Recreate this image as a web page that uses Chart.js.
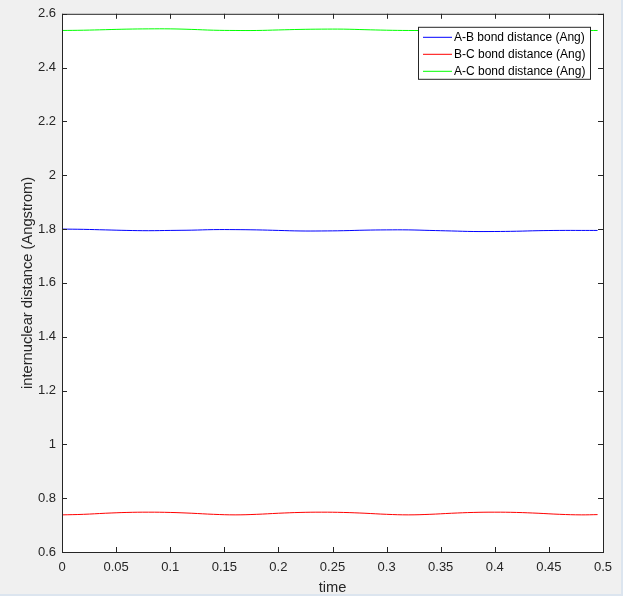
<!DOCTYPE html>
<html>
<head>
<meta charset="utf-8">
<script src="https://cdn.jsdelivr.net/npm/chart.js@4.4.0/dist/chart.umd.min.js"></script>
<style>
  html, body { margin: 0; padding: 0; background: #dce5ef; }
  #wrap { width: 621px; height: 594px; background: #f0f0f0; position: relative; }
</style>
</head>
<body>
<div id="wrap"><canvas id="chart"></canvas></div>
<script>
const FONT = '"Liberation Sans", Arial, Helvetica, sans-serif'
const INK = '#262626'

// sample times (x) and the three bond distances
const times = [0, 0.02, 0.04, 0.06, 0.08, 0.10, 0.12, 0.14, 0.16, 0.18, 0.20, 0.22, 0.24,
  0.26, 0.28, 0.30, 0.32, 0.34, 0.36, 0.38, 0.40, 0.42, 0.44, 0.46, 0.48, 0.495]

const abDistance = [1.800, 1.799, 1.797, 1.795, 1.794, 1.795, 1.796, 1.798, 1.798, 1.797, 1.795, 1.793, 1.793,
  1.794, 1.796, 1.797, 1.797, 1.795, 1.793, 1.791, 1.791, 1.792, 1.794, 1.795, 1.795, 1.795]

const bcDistance = [0.738, 0.740, 0.744, 0.747, 0.748, 0.747, 0.744, 0.740, 0.738, 0.740, 0.744, 0.747, 0.748,
  0.747, 0.744, 0.740, 0.738, 0.740, 0.744, 0.747, 0.748, 0.747, 0.744, 0.740, 0.738, 0.739]

const acDistance = [2.538, 2.539, 2.541, 2.543, 2.544, 2.544, 2.542, 2.539, 2.538, 2.538, 2.540, 2.542, 2.543,
  2.543, 2.541, 2.539, 2.538, 2.538, 2.539, 2.541, 2.542, 2.542, 2.541, 2.539, 2.538, 2.538]

const seriesLabels = ['A-B bond distance (Ang)', 'B-C bond distance (Ang)', 'A-C bond distance (Ang)']
const seriesColors = ['#0000ff', '#ff0000', '#00ff00']

const X_TICK_STEP = 0.05
const Y_TICK_STEP = 0.2

const toPoints = (values) => values.map((y, i) => ({ x: times[i], y }))

const formatTick = (value) => String(Number(value.toFixed(2)))

// MATLAB style box with inward ticks on all four sides
const axesBox = {
  id: 'axesBox',
  afterDraw(chart) {
    const { ctx, chartArea: area, scales } = chart
    const len = 5
    ctx.save()
    ctx.strokeStyle = INK
    ctx.lineWidth = 1
    ctx.strokeRect(area.left + 0.5, area.top + 0.5, area.right - area.left, area.bottom - area.top)
    ctx.beginPath()
    scales.x.ticks.forEach(tick => {
      const px = Math.round(scales.x.getPixelForValue(tick.value)) + 0.5
      ctx.moveTo(px, area.bottom)
      ctx.lineTo(px, area.bottom - len)
      ctx.moveTo(px, area.top)
      ctx.lineTo(px, area.top + len)
    })
    scales.y.ticks.forEach(tick => {
      const py = Math.round(scales.y.getPixelForValue(tick.value)) + 0.5
      ctx.moveTo(area.left, py)
      ctx.lineTo(area.left + len, py)
      ctx.moveTo(area.right, py)
      ctx.lineTo(area.right - len, py)
    })
    ctx.stroke()
    ctx.restore()
  }
}

// legend drawn inside the top right corner of the axes
const insideLegend = {
  id: 'insideLegend',
  afterDraw(chart) {
    const { ctx, chartArea: area } = chart
    const boxRight = area.right - 13
    const boxLeft = boxRight - 172
    const boxTop = area.top + 13
    const rowHeight = 17
    const datasets = chart.data.datasets
    const boxHeight = rowHeight * datasets.length + 1

    ctx.save()
    ctx.fillStyle = '#ffffff'
    ctx.fillRect(boxLeft + 0.5, boxTop + 0.5, boxRight - boxLeft, boxHeight)
    ctx.strokeStyle = INK
    ctx.lineWidth = 1
    ctx.strokeRect(boxLeft + 0.5, boxTop + 0.5, boxRight - boxLeft, boxHeight)

    ctx.font = '12px ' + FONT
    ctx.textBaseline = 'middle'
    ctx.textAlign = 'left'
    datasets.forEach((ds, i) => {
      const y = boxTop + 10 + i * rowHeight
      ctx.strokeStyle = ds.borderColor
      ctx.beginPath()
      ctx.moveTo(boxLeft + 5, y + 0.5)
      ctx.lineTo(boxLeft + 34, y + 0.5)
      ctx.stroke()
      ctx.fillStyle = '#000000'
      ctx.fillText(ds.label, boxLeft + 36, y + 1)
    })
    ctx.restore()
  }
}

const plotBackground = {
  id: 'plotBackground',
  beforeDraw(chart) {
    const { ctx, chartArea: area } = chart
    ctx.save()
    ctx.fillStyle = '#ffffff'
    ctx.fillRect(area.left, area.top, area.right - area.left, area.bottom - area.top)
    ctx.restore()
  }
}

const datasets = [abDistance, bcDistance, acDistance].map((values, i) => ({
  label: seriesLabels[i],
  data: toPoints(values),
  borderColor: seriesColors[i],
  borderWidth: 1,
  pointRadius: 0,
  tension: 0.4,
  fill: false
}))

const ctx = document.getElementById('chart').getContext('2d')
new Chart(ctx, {
  type: 'line',
  data: { datasets },
  plugins: [plotBackground, axesBox, insideLegend],
  options: {
    responsive: true,
    maintainAspectRatio: false,
    animation: false,
    layout: { padding: { top: 12, right: 18, left: 0, bottom: 0 } },
    plugins: {
      legend: { display: false },
      tooltip: { enabled: false }
    },
    scales: {
      x: {
        type: 'linear',
        min: 0,
        max: 0.5,
        grid: { display: false, drawTicks: false },
        border: { display: false },
        ticks: {
          stepSize: X_TICK_STEP,
          padding: 8,
          color: INK,
          font: { family: FONT, size: 13 },
          maxRotation: 0,
          autoSkip: false,
          callback: formatTick
        },
        title: {
          display: true,
          text: 'time',
          color: INK,
          padding: { top: 0, bottom: 0 },
          font: { family: FONT, size: 14.7, lineHeight: 0.8 }
        },
        afterFit(scale) { scale.height = 42 }
      },
      y: {
        min: 0.6,
        max: 2.6,
        grid: { display: false, drawTicks: false },
        border: { display: false },
        ticks: {
          stepSize: Y_TICK_STEP,
          padding: 6,
          color: INK,
          font: { family: FONT, size: 13 },
          autoSkip: false,
          callback: formatTick
        },
        title: {
          display: true,
          text: 'internuclear distance (Angstrom)',
          color: INK,
          padding: { top: 22, bottom: 0 },
          font: { family: FONT, size: 14.7, lineHeight: 0.8 }
        },
        afterFit(scale) { scale.width = 62 }
      }
    }
  }
})
</script>
</body>
</html>
